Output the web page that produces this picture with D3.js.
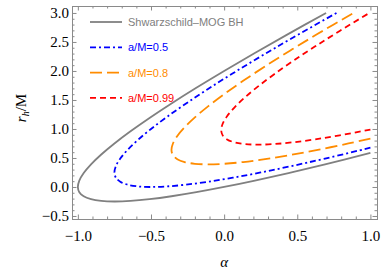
<!DOCTYPE html>
<html>
<head>
<meta charset="utf-8">
<script src="https://cdn.jsdelivr.net/npm/d3@7"></script>
<style>
  body { margin: 0; background: #fff; }
  svg { display: block; }
</style>
</head>
<body>
<svg id="chart"></svg>
<script>
// points, [alpha, r_h/M], ordered along each curve
var schwarzschild = [[1.0,0.586],[0.69,0.39],[0.44,0.24],[0.21,0.11],[0,0],[-0.19,-0.09],[-0.36,-0.16],[-0.51,-0.21],
  [-0.64,-0.24],[-0.75,-0.25],[-0.84,-0.24],[-0.91,-0.21],[-0.96,-0.16],[-0.99,-0.09],[-1.0,0],[-0.99,0.11],
  [-0.96,0.24],[-0.91,0.39],[-0.84,0.56],[-0.75,0.75],[-0.64,0.96],[-0.51,1.19],[-0.36,1.44],[-0.19,1.71],
  [0,2.0],[0.21,2.31],[0.44,2.64],[0.697,3.0]]
var spin05 = [[1.0,0.677],[0.69,0.49],[0.46,0.36],[0.25,0.25],[0.06,0.16],[-0.11,0.09],[-0.26,0.04],[-0.39,0.01],
  [-0.5,0],[-0.59,0.01],[-0.66,0.04],[-0.71,0.09],[-0.74,0.16],[-0.75,0.25],[-0.74,0.36],[-0.71,0.49],
  [-0.66,0.64],[-0.59,0.81],[-0.5,1.0],[-0.39,1.21],[-0.26,1.44],[-0.11,1.69],[0.06,1.96],[0.25,2.25],
  [0.46,2.56],[0.768,3.0]]
var spin08 = [[1.0,0.834],[0.85,0.75],[0.64,0.64],[0.45,0.55],[0.28,0.48],[0.13,0.43],[0.0,0.40],[-0.11,0.39],
  [-0.2,0.40],[-0.27,0.43],[-0.32,0.48],[-0.35,0.55],[-0.36,0.64],[-0.35,0.75],[-0.32,0.88],[-0.27,1.03],
  [-0.2,1.20],[-0.11,1.39],[0.0,1.60],[0.13,1.83],[0.28,2.08],[0.45,2.35],[0.64,2.64],[0.884,3.0]]
var spin099 = [[1.0,0.99],[0.79,0.89],[0.62,0.82],[0.47,0.77],[0.34,0.74],[0.23,0.73],[0.14,0.74],[0.07,0.77],
  [0.02,0.82],[-0.01,0.89],[-0.02,0.98],[-0.01,1.09],[0.02,1.22],[0.07,1.37],[0.14,1.54],[0.23,1.73],
  [0.34,1.94],[0.47,2.17],[0.62,2.42],[0.79,2.69],[0.993,3.0]]

var seriesNames = ["Shwarzschild\u2013MOG BH", "a/M=0.5", "a/M=0.8", "a/M=0.99"]
var seriesData = [schwarzschild, spin05, spin08, spin099]
var seriesColors = ["#808080", "#0000ff", "#ff8c00", "#ff0000"]
var seriesDash = [null, "6,3,2,3", "12,5", "6,4"]

var xMajor = [-1.0, -0.5, 0.0, 0.5, 1.0]
var yMajor = [-0.5, 0.0, 0.5, 1.0, 1.5, 2.0, 2.5, 3.0]

var dimensions = {
  width: 390,
  height: 273,
  margin: { top: 6, right: 13, bottom: 54, left: 72 }
}
dimensions.boundedWidth = dimensions.width - dimensions.margin.left - dimensions.margin.right
dimensions.boundedHeight = dimensions.height - dimensions.margin.top - dimensions.margin.bottom

var svg = d3.select("#chart")
  .attr("width", dimensions.width)
  .attr("height", dimensions.height)

var xScale = d3.scaleLinear()
  .domain([-1.04, 1.045])
  .range([0, dimensions.boundedWidth])

var yScale = d3.scaleLinear()
  .domain([-0.552, 3.12])
  .range([dimensions.boundedHeight, 0])

var bounds = svg.append("g")
  .attr("transform", "translate(" + dimensions.margin.left + "," + dimensions.margin.top + ")")

// minor ticks every 0.1
var xMinor = d3.range(-10, 11).map(function(i){ return i / 10 }).filter(function(v){ return xMajor.indexOf(v) < 0 })
var yMinor = d3.range(-5, 31).map(function(i){ return i / 10 }).filter(function(v){ return yMajor.indexOf(v) < 0 })

var frameColor = "#8a8a8a"

function frameAxis(axisFn, scale, major, minor, translate, labels){
  var gMinor = bounds.append("g").attr("transform", translate)
    .call(axisFn(scale).tickValues(minor).tickSize(-2.5).tickFormat("").tickSizeOuter(0))
  gMinor.select(".domain").remove()
  var g = bounds.append("g").attr("transform", translate)
    .call(axisFn(scale).tickValues(major).tickSize(-4.5).tickSizeOuter(0)
      .tickFormat(labels ? function(d){ return d3.format(".1f")(d).replace("-", "\u2212") } : ""))
  g.select(".domain").remove()
  g.selectAll(".tick line").attr("stroke", frameColor)
  gMinor.selectAll(".tick line").attr("stroke", frameColor)
  g.selectAll("text")
    .attr("font-family", "'Liberation Serif', 'DejaVu Serif', serif")
    .attr("font-size", 15)
    .attr("fill", "#000")
  return g
}

var xAxisBottom = frameAxis(d3.axisBottom, xScale, xMajor, xMinor, "translate(0," + dimensions.boundedHeight + ")", true)
xAxisBottom.selectAll("text").attr("dy", "1.05em").attr("y", 6)
frameAxis(d3.axisTop, xScale, xMajor, xMinor, "translate(0,0)", false)
var yAxisLeft = frameAxis(d3.axisLeft, yScale, yMajor, yMinor, "translate(0,0)", true)
yAxisLeft.selectAll("text").attr("x", -3)
frameAxis(d3.axisRight, yScale, yMajor, yMinor, "translate(" + dimensions.boundedWidth + ",0)", false)

bounds.append("rect")
  .attr("x", 0.5).attr("y", 0.5)
  .attr("width", dimensions.boundedWidth)
  .attr("height", dimensions.boundedHeight)
  .attr("fill", "none")
  .attr("stroke", frameColor)
  .attr("stroke-width", 1)

var line = d3.line()
  .x(function(d){ return xScale(d[0]) })
  .y(function(d){ return yScale(d[1]) })
  .curve(d3.curveCatmullRom.alpha(0.5))

bounds.selectAll(".curve")
  .data(seriesData)
  .enter()
  .append("path")
  .attr("class", "curve")
  .attr("d", line)
  .attr("fill", "none")
  .attr("stroke", function(d, i){ return seriesColors[i] })
  .attr("stroke-width", 1.8)
  .attr("stroke-dasharray", function(d, i){ return seriesDash[i] })

// legend
var legend = bounds.append("g").attr("transform", "translate(18,16)")
var rows = legend.selectAll("g")
  .data(seriesNames)
  .enter()
  .append("g")
  .attr("transform", function(d, i){ return "translate(0," + (i * 25.3) + ")" })
rows.append("line")
  .attr("x1", 0).attr("x2", 32).attr("y1", 0).attr("y2", 0)
  .attr("stroke", function(d, i){ return seriesColors[i] })
  .attr("stroke-width", 1.8)
  .attr("stroke-dasharray", function(d, i){ return seriesDash[i] })
rows.append("text")
  .attr("x", 38).attr("y", 4)
  .attr("font-family", "'Liberation Sans', Arial, sans-serif")
  .attr("font-size", 11)
  .attr("fill", function(d, i){ return seriesColors[i] })
  .text(function(d){ return d })

// axis labels
svg.append("text")
  .attr("x", dimensions.margin.left + xScale(0))
  .attr("y", 267)
  .attr("text-anchor", "middle")
  .attr("font-family", "'Liberation Serif', serif")
  .attr("font-style", "italic")
  .attr("font-size", 15)
  .text("\u03b1")

var yLabel = svg.append("text")
  .attr("transform", "translate(26,108) rotate(-90)")
  .attr("text-anchor", "middle")
  .attr("font-family", "'Liberation Serif', serif")
  .attr("font-size", 15)
yLabel.append("tspan").attr("font-style", "italic").text("r")
yLabel.append("tspan").attr("font-style", "italic").attr("font-size", 10).attr("dy", 3).text("h")
yLabel.append("tspan").attr("dy", -3).text("/M")
</script>
</body>
</html>
